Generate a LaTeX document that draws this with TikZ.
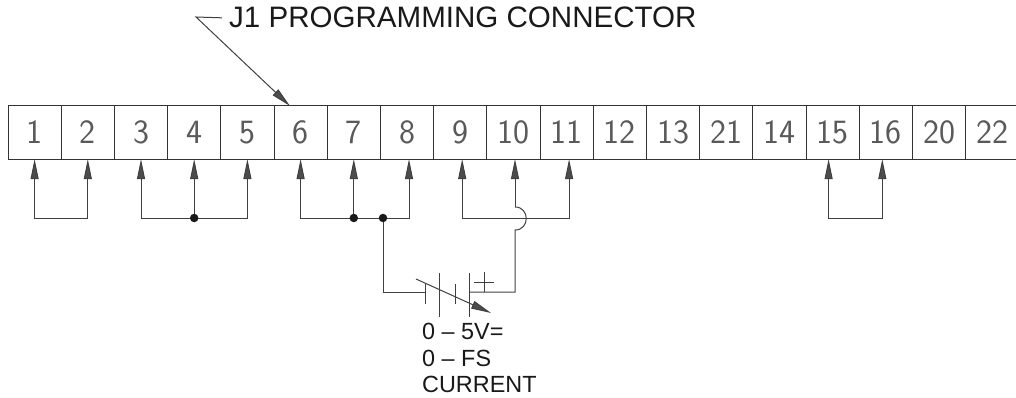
\documentclass[tikz,border=0pt]{standalone}
\usepackage{fontspec}
\setmainfont{Liberation Sans}
\usetikzlibrary{arrows.meta}

\begin{document}
\begin{tikzpicture}[
    x=1pt, y=-1pt,
    % --- STYLES ---
    pinbox/.style={
            draw=black!80,
            line width=1pt,
            minimum size=53.2pt,
            inner sep=0pt,
            outer sep=0pt,
            text=black!65,
            font=\sffamily\fontsize{34}{34}\selectfont\addfontfeatures{FakeStretch=1.2,LetterSpace=6}
        },
    wire/.style={
            draw=black!75,
            line width=1pt
        },
    tip/.style={
            wire,
            >={Triangle[length=20pt,width=8pt,fill=black!70]}
        },
    junc/.style={
            circle,
            fill=black!90,
            minimum size=8.5pt,
            inner sep=0pt
        },
    title/.style={
            anchor=base west,
            inner xsep=7pt,
            inner ysep=0pt,
            text=black!90,
            font=\fontsize{29.55}{29.55}\selectfont
        },
    rating/.style={
            anchor=north west,
            inner sep=0pt,
            align=left,
            text=black!90,
            font=\fontsize{23.4}{26.5}\selectfont
        }
    ]
    \useasboundingbox (0,0) rectangle (1016,398);

    % --- CONNECTOR ROW ---
    \foreach \lab [count=\i from 0] in {1,2,3,4,5,6,7,8,9,10,11,12,13,21,14,15,16,20,22}
    \node[pinbox] (pin\lab) at ({34.6+53.2*\i},132.5) {\lab};

    % --- TITLE ---
    \node[title] (head) at (222,28) {J1 PROGRAMMING CONNECTOR};
    \coordinate (bend) at (196,17);
    \coordinate (aim) at (290,106);
    \draw[tip, ->] (head.west) -- (bend) -- (aim);

    % --- JUMPERS ---
    \draw[tip, <->] (pin1.south) -- ++(0,59) -| (pin2.south);
    \draw[tip, <->] ([xshift=-4pt]pin15.south) -- ++(0,59) -| ([xshift=-3.5pt]pin16.south);

    \draw[tip, <->] (pin3.south) -- ++(0,59) -| (pin5.south);
    \node[junc] (dotA) at (pin4.south |- 0,218) {};
    \draw[tip, ->] (dotA) -- (pin4.south);

    \draw[tip, <->] (pin6.south) -- ++(0,59) -| ([xshift=2pt]pin8.south);
    \node[junc] (dotB) at (pin7.south |- 0,218) {};
    \node[junc] (dotC) at (383,218) {};
    \draw[tip, ->] (dotB) -- (pin7.south);

    % pin 9 to 11, passes over the hop
    \draw[tip, <->] ([xshift=2pt]pin9.south) -- ++(0,59) -| ([xshift=2.5pt]pin11.south);

    % --- SUPPLY ---
    \coordinate (batL) at (425,292);
    \coordinate (batR) at (469,292);
    \coordinate (hopT) at (515,207);
    \coordinate (hopB) at (515,230);
    \draw[wire] (dotC) |- (batL);
    \draw[wire] (batR) -| (hopB) .. controls ++(15,0) and ([xshift=15pt]hopT) .. (hopT);
    \draw[tip, ->] (hopT) -- (hopT |- pin10.south);

    % plates
    \draw[wire] (425,284) -- (425,304);
    \draw[wire] (439,273) -- (439,317);
    \draw[wire] (455,284) -- (455,304);
    \draw[wire] (469,273) -- (469,317);
    % plus
    \draw[wire] (474,282) -- (494,282);
    \draw[wire] (484,272) -- (484,292);
    % adjust arrow
    \coordinate (adjA) at (416,279);
    \coordinate (adjB) at (491,313);
    \draw[tip, ->] (adjA) -- (adjB);

    % --- RATING ---
    \node[rating] (note) at (422,323) {0 -- 5V=\\0 -- FS\\CURRENT};

\end{tikzpicture}
\end{document}
